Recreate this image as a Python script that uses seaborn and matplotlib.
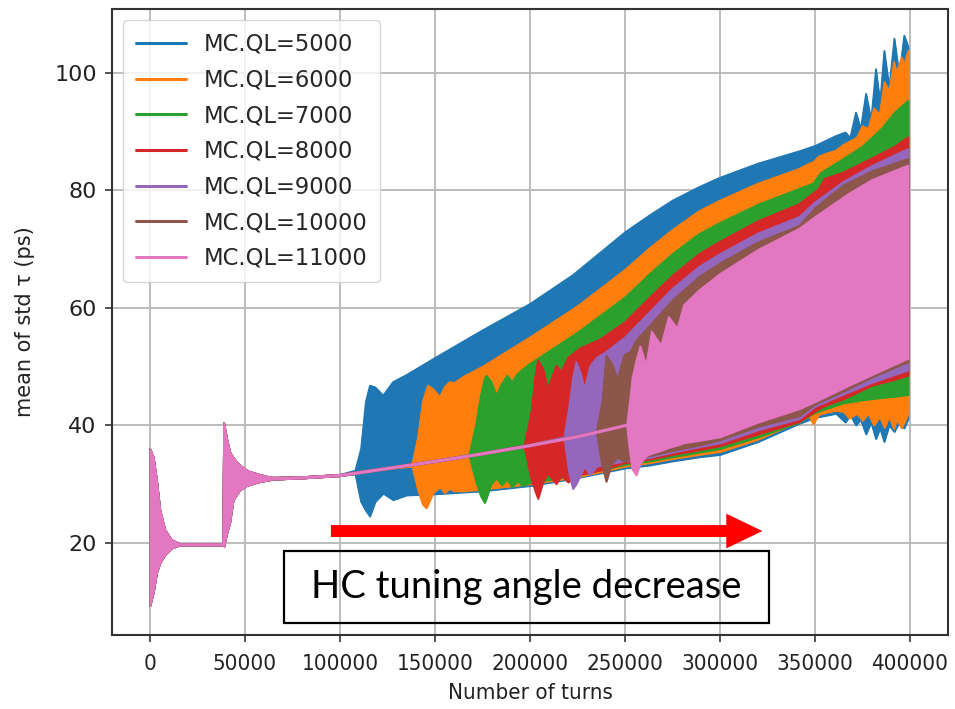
import matplotlib
matplotlib.use("Agg")
import matplotlib.pyplot as plt
from matplotlib import font_manager
from matplotlib.patches import FancyArrowPatch, Rectangle
import seaborn as sns

# ---------------------------------------------------------------------------
# Shared settling trace: every loaded-Q case follows it until its own
# instability threshold is crossed (turns, upper / lower envelope in ps).
# ---------------------------------------------------------------------------
settle_turns = [0, 1750, 3500, 5250, 7900, 11400, 15800, 38400, 38900, 40300,
                42000, 43800, 45600, 47300, 50800, 52600, 57800, 61400, 64800,
                80000, 100000, 125000, 150000, 175000, 200000, 225000, 250000]
settle_upper = [36.0, 34.6, 30.7, 25.6, 22.2, 20.5, 19.8, 19.8, 40.4, 37.9,
                35.5, 34.5, 33.8, 33.2, 32.4, 32.1, 31.6, 31.3, 31.1,
                31.2, 31.6, 32.8, 34.0, 35.3, 36.7, 38.2, 40.1]
settle_lower = [9.3, 11.5, 14.9, 16.6, 18.0, 19.1, 19.6, 19.6, 19.4, 21.5,
                23.4, 27.3, 28.2, 29.0, 29.7, 29.9, 30.4, 30.6, 30.8,
                31.0, 31.4, 32.6, 33.8, 35.1, 36.5, 38.0, 39.9]

series_labels = ["MC.QL=5000", "MC.QL=6000", "MC.QL=7000", "MC.QL=8000",
                 "MC.QL=9000", "MC.QL=10000", "MC.QL=11000"]

# MC.QL = 5000
turns_5000 = [108000, 111000, 113500, 115700, 118500, 122700, 127900, 135000,
              150000, 175000, 200000, 222500, 250000, 263000, 275000, 289000,
              300000, 320000, 341700, 350000, 361000, 366000, 368500, 371500,
              374000, 376800, 379500, 382000, 384200, 386400, 389000, 391700,
              394300, 396900, 399000]
upper_5000 = [32.3, 36.0, 44.0, 46.8, 46.5, 45.1, 47.4, 48.6,
              51.5, 56.2, 60.7, 65.6, 72.9, 75.8, 78.3, 80.6,
              82.2, 84.6, 86.7, 87.6, 89.3, 89.9, 89.0, 93.3,
              90.5, 96.5, 92.0, 100.7, 95.0, 103.8, 97.5, 105.9,
              99.5, 106.4, 104.5]
lower_5000 = [31.7, 27.0, 25.5, 24.5, 27.0, 28.4, 27.3, 28.1,
              28.3, 28.8, 29.7, 30.9, 32.7, 33.2, 33.9, 34.6,
              35.0, 37.2, 40.3, 41.3, 42.0, 40.5, 41.8, 40.0,
              41.0, 38.5, 40.5, 37.7, 39.5, 37.2, 40.0, 38.9,
              40.5, 39.5, 41.1]

# MC.QL = 6000
turns_6000 = [138000, 141000, 143500, 145400, 146300, 149000, 152500, 155000,
              157700, 160000, 165000, 175000, 200000, 225000, 250000, 263000,
              275000, 289000, 300000, 320000, 341700, 347000, 349000, 352000,
              356000, 361000, 365000, 368000, 372000, 375000, 378000, 381000,
              384000, 386500, 389000, 391500, 393000, 395500, 397000, 399000]
upper_6000 = [33.4, 38.0, 44.0, 46.0, 46.8, 46.2, 44.8, 46.5,
              47.4, 47.2, 48.3, 50.0, 55.0, 60.3, 66.5, 70.2,
              73.3, 76.5, 78.3, 81.2, 83.7, 84.6, 84.8, 85.8,
              86.3, 86.8, 87.8, 88.3, 89.0, 91.0, 90.5, 94.0,
              93.0, 98.5, 97.0, 101.9, 100.0, 102.7, 101.5, 103.8]
lower_6000 = [33.0, 29.0, 26.5, 25.9, 26.5, 28.5, 29.5, 28.5,
              29.2, 28.8, 28.8, 29.1, 30.0, 31.2, 33.0, 33.6,
              34.3, 35.0, 35.5, 37.6, 40.7, 41.5, 40.2, 41.8,
              42.2, 42.5, 42.3, 41.2, 42.0, 40.8, 42.0, 40.0,
              41.5, 39.6, 41.5, 39.4, 41.0, 39.5, 40.5, 42.0]

# MC.QL = 7000
turns_7000 = [168000, 171500, 174000, 176100, 177000, 179500, 182300, 185000,
              188000, 190500, 193500, 196000, 200000, 225000, 250000, 263000,
              275000, 289000, 300000, 320000, 341700, 349000, 353000, 365000,
              375000, 385000, 392000, 399000]
upper_7000 = [35.0, 40.0, 45.0, 48.0, 48.5, 47.5, 45.1, 47.0,
              48.5, 47.4, 48.8, 49.5, 50.5, 55.8, 61.8, 65.8,
              69.2, 72.6, 74.5, 77.6, 80.3, 81.2, 83.0, 85.4,
              87.5, 90.5, 93.3, 95.3]
lower_7000 = [34.8, 30.5, 28.0, 26.8, 27.5, 30.0, 31.0, 29.8,
              30.8, 29.5, 30.5, 29.7, 30.2, 31.5, 33.3, 33.9,
              34.6, 35.4, 36.0, 38.0, 40.5, 42.0, 42.5, 43.8,
              44.3, 44.7, 44.9, 45.2]

# MC.QL = 8000
turns_8000 = [197000, 200500, 203000, 204200, 207000, 209400, 213800, 216500,
              220000, 226100, 236600, 250000, 263000, 275000, 289000, 300000,
              320000, 341700, 352000, 355000, 365000, 380000, 392000, 399000]
upper_8000 = [36.6, 42.0, 49.0, 51.1, 49.5, 46.2, 50.2, 49.2,
              51.5, 53.1, 54.6, 57.6, 61.8, 65.5, 69.2, 71.3,
              74.8, 77.7, 80.3, 82.0, 83.1, 85.5, 87.5, 89.1]
lower_8000 = [36.4, 31.0, 28.5, 27.5, 30.5, 31.8, 30.0, 31.5,
              30.3, 31.6, 32.3, 33.6, 34.2, 35.0, 35.8, 36.5,
              38.5, 40.6, 42.8, 43.3, 44.5, 46.8, 47.8, 48.5]

# MC.QL = 9000
turns_9000 = [218000, 220500, 222500, 224300, 226500, 228700, 231500, 235000,
              240000, 250000, 263000, 275000, 289000, 300000, 320000, 341700,
              350000, 365000, 380000, 399000]
upper_9000 = [38.0, 43.0, 48.0, 50.8, 49.0, 46.2, 50.0, 51.5,
              52.5, 55.0, 59.3, 63.3, 67.0, 69.2, 72.7, 75.5,
              78.0, 81.5, 84.2, 87.1]
lower_9000 = [37.8, 32.0, 29.2, 30.0, 31.5, 33.0, 31.5, 33.0,
              33.3, 33.9, 34.5, 35.4, 36.3, 37.0, 39.2, 41.1,
              43.2, 45.3, 47.3, 49.4]

# MC.QL = 10000
turns_10000 = [235000, 238000, 240100, 243000, 246000, 249500, 252700, 256000,
               263000, 275000, 289000, 300000, 320000, 341700, 350000, 365000,
               380000, 399000]
upper_10000 = [39.0, 44.0, 51.9, 50.5, 47.9, 52.0, 52.5, 54.5,
               57.0, 61.3, 65.3, 67.6, 71.2, 74.0, 77.0, 80.9,
               83.3, 85.4]
lower_10000 = [38.8, 33.0, 30.4, 33.5, 34.5, 33.8, 34.3, 34.5,
               34.8, 35.7, 36.6, 37.5, 39.8, 41.6, 43.6, 45.8,
               48.2, 50.8]

# MC.QL = 11000
turns_11000 = [251000, 252500, 253800, 255900, 258000, 261100, 264000, 269000,
               273000, 277500, 281000, 289000, 300000, 320000, 341700, 350000,
               368000, 380000, 399000]
upper_11000 = [40.1, 44.0, 48.0, 51.0, 53.5, 50.2, 56.0, 53.6,
               58.5, 56.5, 60.5, 63.0, 65.8, 69.9, 73.5, 75.5,
               79.5, 81.8, 84.3]
lower_11000 = [39.9, 35.5, 32.5, 31.5, 33.5, 34.8, 35.2, 35.7,
               36.2, 36.6, 37.0, 37.4, 38.0, 40.5, 42.8, 44.0,
               46.8, 48.6, 51.4]

x_ticks = [0, 50000, 100000, 150000, 200000, 250000, 300000, 350000, 400000]
y_ticks = [20, 40, 60, 80, 100]

series = [
    (turns_5000, upper_5000, lower_5000),
    (turns_6000, upper_6000, lower_6000),
    (turns_7000, upper_7000, lower_7000),
    (turns_8000, upper_8000, lower_8000),
    (turns_9000, upper_9000, lower_9000),
    (turns_10000, upper_10000, lower_10000),
    (turns_11000, upper_11000, lower_11000),
]

# ---------------------------------------------------------------------------
sns.set_style("ticks")
plt.rcParams["font.family"] = ["DejaVu Sans"]

# a narrow face for the horizontal-axis texts, if one is available
narrow = None
for f in font_manager.fontManager.ttflist:
    if f.name == "Liberation Sans Narrow":
        narrow = dict(family="Liberation Sans Narrow")
        break
if narrow is None:
    for f in font_manager.fontManager.ttflist:
        if f.name == "DejaVu Sans" and f.stretch == "condensed":
            narrow = dict(family="DejaVu Sans", stretch="condensed")
            break
if narrow is None:
    narrow = dict(family="DejaVu Sans")

palette = sns.color_palette("tab10", len(series))

fig = plt.figure(figsize=(9.55, 7.09), dpi=100)
ax = fig.add_axes([0.1173, 0.1044, 0.8754, 0.8829])

for (turns, upper, lower), label, color in zip(series, series_labels, palette):
    first = turns[0]
    xs = [t for t in settle_turns if t < first] + list(turns)
    hi = [v for t, v in zip(settle_turns, settle_upper) if t < first] + list(upper)
    lo = [v for t, v in zip(settle_turns, settle_lower) if t < first] + list(lower)
    ax.fill_between(xs, lo, hi, color=color, lw=1.0, edgecolor=color, zorder=2)
    sns.lineplot(x=xs, y=hi, color=color, lw=1.0, label=label, ax=ax,
                 estimator=None, sort=False, zorder=2)
    sns.lineplot(x=xs, y=lo, color=color, lw=1.0, ax=ax,
                 estimator=None, sort=False, zorder=2)

ax.set_xlim(-20000, 420000)
ax.set_ylim(4.3, 110.9)
ax.set_xticks(x_ticks)
ax.set_xticklabels([str(t) for t in x_ticks], fontsize=16, **narrow)
ax.set_yticks(y_ticks)
ax.set_yticklabels([str(t) for t in y_ticks], fontsize=16)
ax.tick_params(axis="both", direction="out", length=5, width=1.2,
               color="#333333", labelcolor="#222222")
ax.tick_params(axis="x", pad=9)
ax.tick_params(axis="y", pad=6)
ax.grid(True, color="#b8b8b8", lw=1.3, zorder=0)
ax.set_axisbelow(True)
for sp in ax.spines.values():
    sp.set_visible(True)
    sp.set_color("#333333")
    sp.set_linewidth(1.5)

ax.set_xlabel("Number of turns", fontsize=16, color="#222222", labelpad=6, **narrow)
ax.set_ylabel("mean of std \u03c4 (ps)", fontsize=15, color="#222222", labelpad=14)

leg = ax.legend(loc="upper left", fontsize=16.3, frameon=True, framealpha=0.8,
                edgecolor="#cccccc", fancybox=True, handlelength=2.2,
                labelspacing=0.56, borderpad=0.55, handletextpad=0.8)
for h in leg.get_lines():
    h.set_linewidth(2.2)
leg.set_zorder(6)

# annotation: direction of the harmonic-cavity tuning sweep
arrow = FancyArrowPatch((95200, 22.0), (322300, 22.0),
                        arrowstyle="simple,head_length=26,head_width=25,tail_width=8.6",
                        mutation_scale=1, color="#ff0000", lw=0, shrinkA=0, shrinkB=0,
                        zorder=7)
ax.add_patch(arrow)
ax.add_patch(Rectangle((70450, 6.33), 255520, 12.19, fill=False,
                       edgecolor="black", lw=1.6, zorder=7))
ax.text(198200, 12.4, "HC tuning angle decrease", ha="center", va="center",
        fontsize=27.5, family=["Lato", "DejaVu Sans"], color="black", zorder=8)

fig.savefig("out.png", dpi=100)
